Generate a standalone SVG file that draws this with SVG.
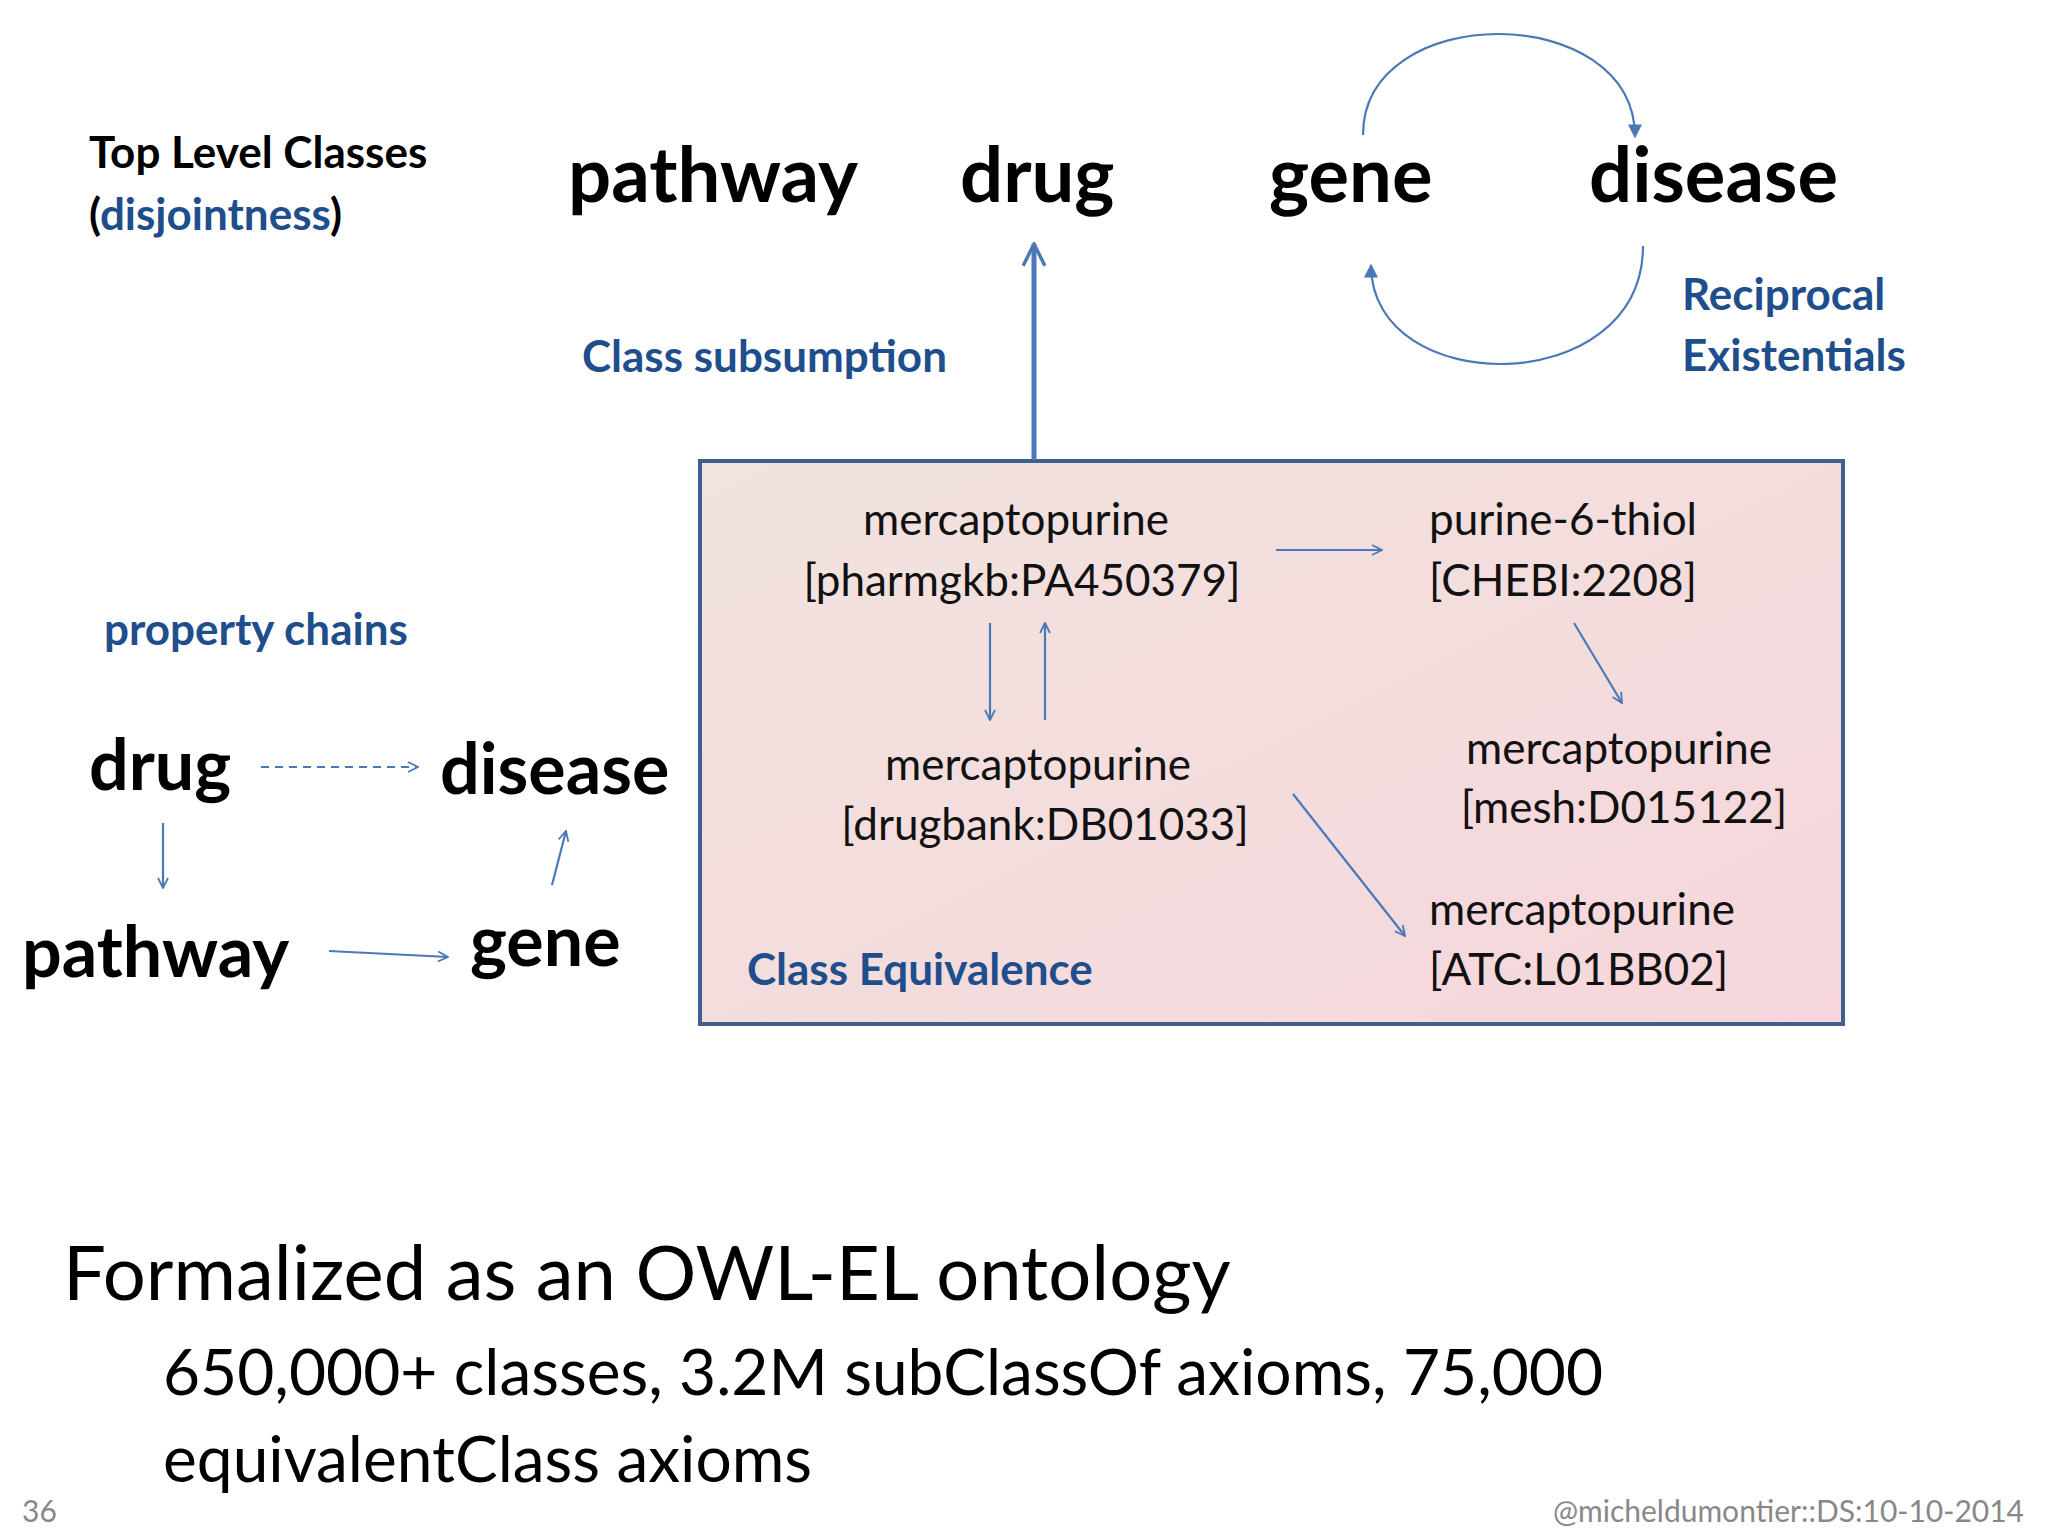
<svg xmlns="http://www.w3.org/2000/svg" width="2048" height="1536" viewBox="0 0 2048 1536">
<defs>
<linearGradient id="bg" x1="0" y1="0" x2="1" y2="1"><stop offset="0" stop-color="#f1e3de"/><stop offset="1" stop-color="#f6d6dc"/></linearGradient>
<marker id="o" viewBox="0 0 12 12" refX="11" refY="6" markerWidth="12" markerHeight="12" markerUnits="userSpaceOnUse" orient="auto"><path d="M1,1 L11,6 L1,11" fill="none" stroke="#4a78b8" stroke-width="1.8"/></marker>
<marker id="f" viewBox="0 0 10 10" refX="9" refY="5" markerWidth="14" markerHeight="14" markerUnits="userSpaceOnUse" orient="auto"><path d="M0,0 L10,5 L0,10 z" fill="#4a78b8"/></marker>
<marker id="big" viewBox="0 0 12 12" refX="11" refY="6" markerWidth="26" markerHeight="26" markerUnits="userSpaceOnUse" orient="auto"><path d="M1,1 L11,6 L1,11" fill="none" stroke="#4a78b8" stroke-width="1.6"/></marker>
</defs>
<style>
text{font-family:Lato,"Open Sans",sans-serif}
.big{font-size:76px;font-weight:bold;fill:#000}
.mid{font-size:70px;font-weight:bold;fill:#000}
.blue{font-size:44px;font-weight:bold;fill:#1f4e8c}
.node{font-size:44px;fill:#111}
.ln{fill:none;stroke:#4a78b8;stroke-width:2.2}
</style>
<rect width="2048" height="1536" fill="#fff"/>
<g id="title">
<text x="89" y="168" font-size="44" font-weight="bold">Top Level Classes</text>
<text x="89" y="230" font-size="44" font-weight="bold">(<tspan fill="#1f4e8c">disjointness</tspan>)</text>
</g>
<g id="n-pathway"><text class="big" x="568" y="202">pathway</text></g>
<g id="n-drug"><text class="big" x="960" y="202">drug</text></g>
<g id="n-gene"><text class="big" x="1269" y="202">gene</text></g>
<g id="n-disease"><text class="big" x="1589" y="202">disease</text></g>
<g id="l-sub"><text class="blue" x="582" y="372">Class subsumption</text></g>
<g id="l-recip"><text class="blue" x="1682" y="310">Reciprocal</text><text class="blue" x="1682" y="371">Existentials</text></g>
<g id="box">
<rect x="700" y="461" width="1143" height="563" fill="url(#bg)" stroke="#3f5f8f" stroke-width="4"/>
<text class="node" x="1016" y="535" text-anchor="middle">mercaptopurine</text>
<text class="node" x="1022" y="596" text-anchor="middle">[pharmgkb:PA450379]</text>
<text class="node" x="1429" y="535">purine-6-thiol</text>
<text class="node" x="1429" y="596">[CHEBI:2208]</text>
<text class="node" x="1619" y="764" text-anchor="middle">mercaptopurine</text>
<text class="node" x="1624" y="823" text-anchor="middle">[mesh:D015122]</text>
<text class="node" x="1038" y="780" text-anchor="middle">mercaptopurine</text>
<text class="node" x="1045" y="840" text-anchor="middle">[drugbank:DB01033]</text>
<text class="node" x="1429" y="925">mercaptopurine</text>
<text class="node" x="1429" y="985">[ATC:L01BB02]</text>
<text class="blue" x="747" y="985">Class Equivalence</text>
</g>
<g id="chains">
<text class="blue" x="104" y="645">property chains</text>
<text class="mid" x="89" y="790">drug</text>
<text class="mid" x="440" y="794">disease</text>
<text class="mid" x="22" y="977">pathway</text>
<text class="mid" x="470" y="966">gene</text>
</g>
<g id="connectors">
<line x1="1034" y1="460" x2="1034" y2="244" stroke="#4a78b8" stroke-width="5" marker-end="url(#big)"/>
<path class="ln" d="M1363,135 C1363,0 1635,0 1635,137" marker-end="url(#f)"/>
<path class="ln" d="M1643,246 C1643,400 1371,400 1371,265" marker-end="url(#f)"/>
<line class="ln" x1="1276" y1="550" x2="1382" y2="550" marker-end="url(#o)"/>
<line class="ln" x1="1574" y1="623" x2="1622" y2="703" marker-end="url(#o)"/>
<line class="ln" x1="990" y1="623" x2="990" y2="720" marker-end="url(#o)"/>
<line class="ln" x1="1045" y1="720" x2="1045" y2="623" marker-end="url(#o)"/>
<line class="ln" x1="1293" y1="794" x2="1405" y2="936" marker-end="url(#o)"/>
<line class="ln" x1="261" y1="767" x2="418" y2="767" stroke-dasharray="8,6" marker-end="url(#o)"/>
<line class="ln" x1="163" y1="823" x2="163" y2="888" marker-end="url(#o)"/>
<line class="ln" x1="329" y1="951" x2="448" y2="957" marker-end="url(#o)"/>
<line class="ln" x1="552" y1="885" x2="566" y2="831" marker-end="url(#o)"/>
</g>
<g id="footer">
<text x="63" y="1300" font-size="76" fill="#000">Formalized as an OWL-EL ontology</text>
<text x="163" y="1395" font-size="64" fill="#000">650,000+ classes, 3.2M subClassOf axioms, 75,000</text>
<text x="163" y="1482" font-size="64" fill="#000">equivalentClass axioms</text>
<text x="22" y="1522" font-size="30" fill="#888">36</text>
<text x="2024" y="1522" font-size="30" fill="#888" text-anchor="end">@micheldumontier::DS:10-10-2014</text>
</g>
</svg>
